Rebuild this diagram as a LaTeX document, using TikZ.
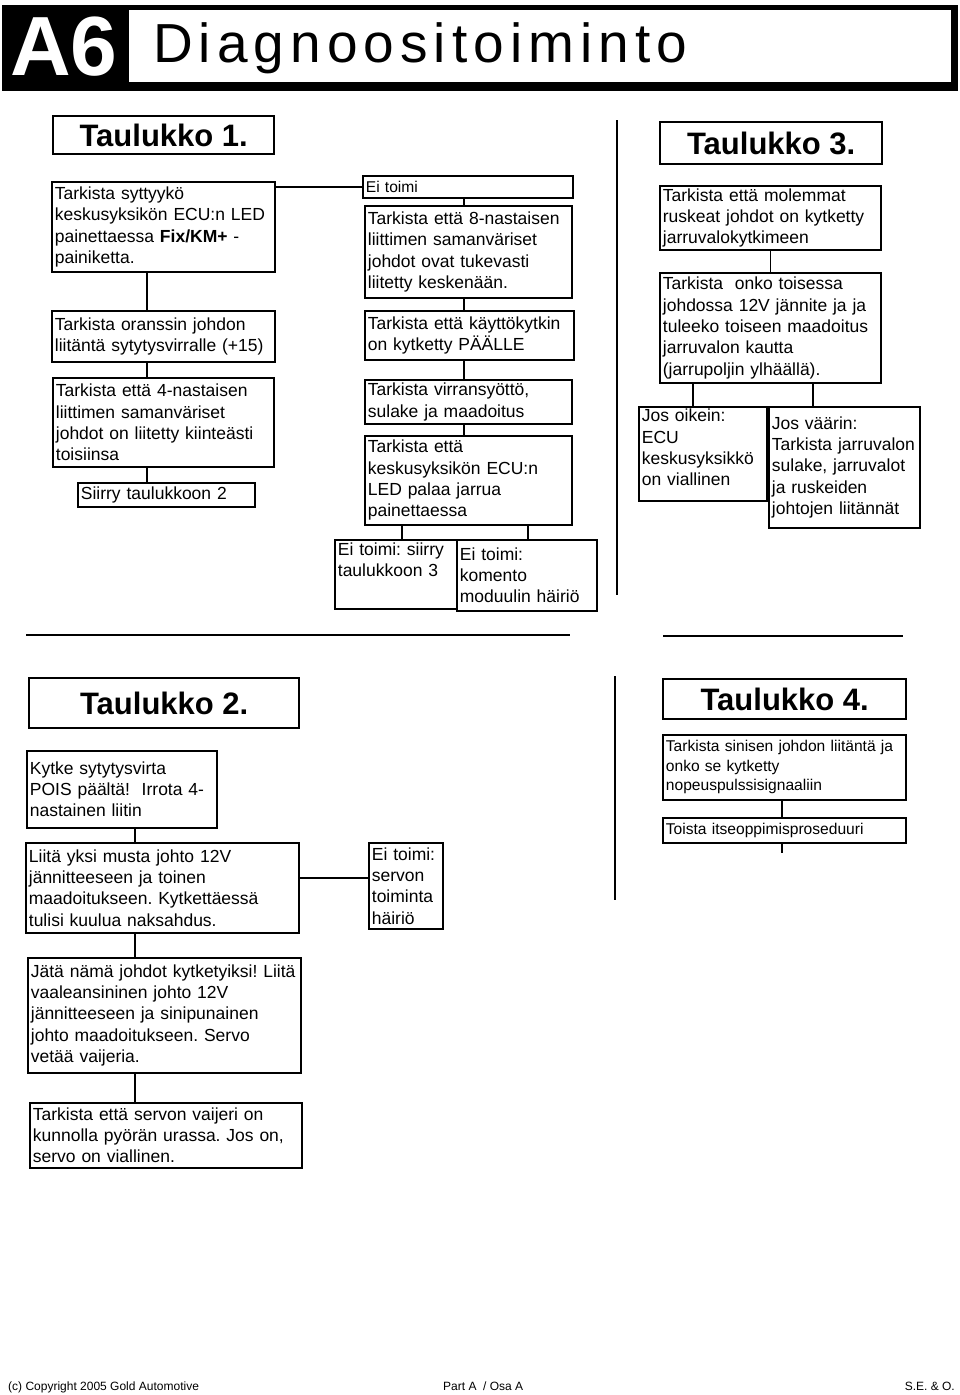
\documentclass[tikz,border=0pt]{standalone}
\usepackage{fontspec}
\setmainfont{Liberation Sans}
\frenchspacing
\usetikzlibrary{calc}
\tikzset{
  bx/.code 2 args={\pgfmathsetmacro\bxw{#1-6}%
    \tikzset{draw, line width=1.8pt, anchor=north west, align=left,
      inner xsep=3pt, inner ysep=2pt, minimum width=#1pt, minimum height=#2pt,
      text width=\bxw pt, font=\fontsize{17.5}{21.3}\selectfont}},
  smalltxt/.style={font=\fontsize{15.6}{19.5}\selectfont},
  titlebox/.style={draw, line width=2.4pt, anchor=north west, align=center,
    font=\fontsize{31}{34}\selectfont\bfseries},
  conn/.style={line width=1.8pt},
  divider/.style={line width=1.8pt}
}

\begin{document}
\begin{tikzpicture}[x=1pt,y=-1pt]
  \useasboundingbox (0,0) rectangle (960,1395);
  % header
  \fill (2,5) rectangle (958,91);
  \fill[white] (129,10) rectangle (951,82);
  \node[white, anchor=base, inner sep=0, font=\fontsize{84}{84}\selectfont\bfseries] (sec) at (64,75) {A6};
  \node[anchor=base west, inner sep=0, font=\fontsize{55}{60}\selectfont\addfontfeature{LetterSpace=11}] (ttl) at (153,62) {Diagnoositoiminto};

  % Taulukko 1
  \node[titlebox, minimum width=221pt, minimum height=38pt] (t1) at (52,115) {Taulukko 1.};
  \node[bx={223}{90}] (b1) at (51,181) {Tarkista syttyykö\\keskusyksikön ECU:n LED\\painettaessa \textbf{Fix/KM+} -\\painiketta.};
  \node[bx={223}{51}] (b2) at (51,310) {Tarkista oranssin johdon\\liitäntä sytytysvirralle (+15)};
  \node[bx={221}{89}] (b3) at (52,377) {Tarkista että 4-nastaisen\\liittimen samanväriset\\johdot on liitetty kiinteästi\\toisiinsa};
  \node[bx={177}{24}] (b4) at (77,482) {Siirry taulukkoon 2};
  \foreach \u/\v in {b1/b2,b2/b3,b3/b4}
    \draw[conn] (\u.south -| 147,0) -- (\v.north -| 147,0);

  % Ei toimi branch
  \node[bx={210}{22}, smalltxt] (e0) at (362,175) {Ei toimi};
  \node[bx={207}{92}] (m1) at (364,205) {Tarkista että 8-nastaisen\\liittimen samanväriset\\johdot ovat tukevasti\\liitetty keskenään.};
  \node[bx={209}{49}] (m2) at (364,310) {Tarkista että käyttökytkin\\on kytketty PÄÄLLE};
  \node[bx={207}{44}] (m3) at (364,379) {Tarkista virransyöttö,\\sulake ja maadoitus};
  \node[bx={207}{89}] (m4) at (364,435) {Tarkista että\\keskusyksikön ECU:n\\LED palaa jarrua\\painettaessa};
  \node[bx={122}{69}] (m5) at (334,539) {Ei toimi: siirry\\taulukkoon 3\rule[-30pt]{0pt}{1pt}};
  \node[bx={140}{71}] (m6) at (456,539) {Ei toimi:\\komento\\moduulin häiriö};
  \draw[conn] (b1.east |- e0.west) -- (e0.west);
  \foreach \u/\v in {e0/m1,m1/m2,m2/m3,m3/m4}
    \draw[conn] (\u.south -| 464,0) -- (\v.north -| 464,0);
  \foreach \v/\x in {m5/402,m6/528}
    \draw[conn] (m4.south -| \x,0) -- (\v.north -| \x,0);

  % Taulukko 3
  \node[titlebox, minimum width=222pt, minimum height=42pt] (t3) at (659,121) {Taulukko 3.};
  \node[bx={221}{64}] (r1) at (659,185) {Tarkista että molemmat\\ruskeat johdot on kytketty\\jarruvalokytkimeen};
  \node[bx={221}{110}] (r2) at (659,272) {Tarkista\ \ onko toisessa\\johdossa 12V jännite ja ja\\tuleeko toiseen maadoitus\\jarruvalon kautta\\(jarrupoljin ylhäällä).};
  \node[bx={128}{94}] (r3) at (638,406) {Jos oikein:\\ECU\\keskusyksikkö\\on viallinen\rule[-13pt]{0pt}{1pt}};
  \node[bx={151}{121}] (r4) at (768,406) {Jos väärin:\\Tarkista jarruvalon\\sulake, jarruvalot\\ja ruskeiden\\johtojen liitännät};
  \draw[conn] (r1.south) -- (r2.north);
  \foreach \v/\x in {r3/693,r4/813}
    \draw[conn] (r2.south -| \x,0) -- (\v.north -| \x,0);

  % dividers
  \draw[divider] (617,120) -- (617,595);
  \draw[divider] (26,635) -- (570,635);
  \draw[divider] (663,636) -- (903,636);
  \draw[divider] (615,676) -- (615,900);

  % Taulukko 2
  \node[titlebox, minimum width=270pt, minimum height=50pt] (t2) at (28,677) {Taulukko 2.};
  \node[bx={190}{77}] (k1) at (26,750) {Kytke sytytysvirta\\POIS päältä!\ \ Irrota 4-\\nastainen liitin};
  \node[bx={273}{90}] (k2) at (25,842) {Liitä yksi musta johto 12V\\jännitteeseen ja toinen\\maadoitukseen. Kytkettäessä\\tulisi kuulua naksahdus.};
  \node[bx={74}{86}] (k3) at (368,842) {Ei toimi:\\servon\\toiminta\\häiriö};
  \node[bx={273}{115}] (k4) at (27,957) {Jätä nämä johdot kytketyiksi! Liitä\\vaaleansininen johto 12V\\jännitteeseen ja sinipunainen\\johto maadoitukseen. Servo\\vetää vaijeria.};
  \node[bx={272}{65}] (k5) at (29,1102) {Tarkista että servon vaijeri on\\kunnolla pyörän urassa. Jos on,\\servo on viallinen.};
  \foreach \u/\v in {k1/k2,k2/k4,k4/k5}
    \draw[conn] (\u.south -| 135,0) -- (\v.north -| 135,0);
  \draw[conn] (k2.east |- 0,878) -- (k3.west |- 0,878);

  % Taulukko 4
  \node[titlebox, minimum width=243pt, minimum height=40pt] (t4) at (662,678) {Taulukko 4.};
  \node[bx={243}{65}, smalltxt] (n1) at (662,734) {Tarkista sinisen johdon liitäntä ja\\onko se kytketty\\nopeuspulssisignaaliin};
  \node[bx={243}{25}, smalltxt] (n2) at (662,817) {Toista itseoppimisproseduuri};
  \coordinate (n3) at (782,853);
  \draw[conn] (n1.south -| 782,0) -- (n2.north -| 782,0);
  \draw[conn] (n2.south -| n3) -- (n3);

  % footer
  \node[anchor=base west, inner sep=0, font=\fontsize{12}{14}\selectfont] (f1) at (8,1390) {(c) Copyright 2005 Gold Automotive};
  \node[anchor=base west, inner sep=0, font=\fontsize{12}{14}\selectfont] (f2) at (443,1390) {Part A\ \ / Osa A};
  \node[anchor=base east, inner sep=0, font=\fontsize{12}{14}\selectfont] (f3) at (955,1390) {S.E. \& O.};
\end{tikzpicture}
\end{document}
